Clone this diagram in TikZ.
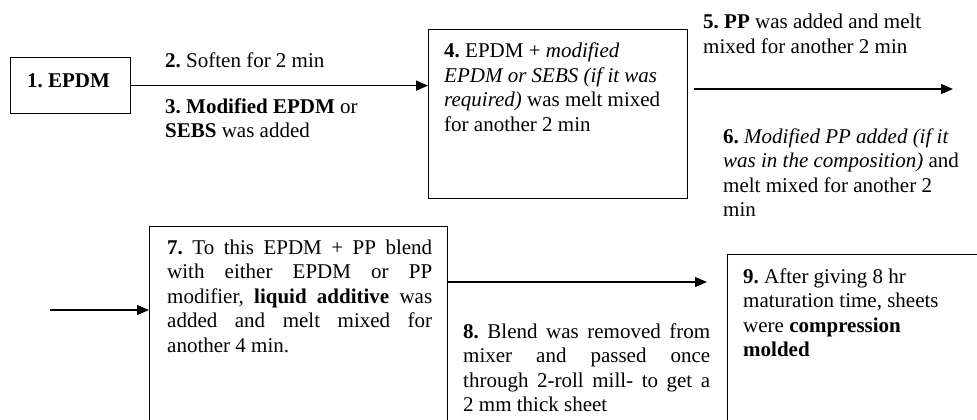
\documentclass[tikz,border=0pt]{standalone}
\usepackage{fontspec}
\setmainfont{Liberation Serif}
\usetikzlibrary{arrows.meta}
\frenchspacing

% one line of text stretched to a fixed width (justified)
\newcommand{\jline}[2]{\makebox[#1][s]{#2}}

\begin{document}
\begin{tikzpicture}[x=1pt,y=-1pt,
  box/.style={draw, line width=1.2pt, inner sep=0pt, anchor=north west},
  txt/.style={inner sep=0pt, anchor=base west, font=\fontsize{21}{24.5}\selectfont},
  flow/.style={line width=1.2pt, -{Triangle[length=12pt,width=10pt]}}]

  \fill[white] (0,0) rectangle (977,420);
  \useasboundingbox (0,0) rectangle (977,420);

  % boxes
  \node[box, minimum width=120pt, minimum height=56pt] (box1) at (10,57) {};
  \node[box, minimum width=259pt, minimum height=169pt] (box4) at (428,29) {};
  \node[box, minimum width=298pt, minimum height=230pt] (box7) at (149,226) {};
  \node[box, minimum width=300pt, minimum height=220pt] (box9) at (727,254) {};

  % box texts
  \node[inner sep=0pt, font=\fontsize{21}{24.5}\selectfont\bfseries] (t1) at (68.5,81) {1. EPDM};

  \node[txt] (t4) at (444,58) {\begin{tabular}[t]{@{}l@{}}
    \textbf{4.} EPDM + \textit{modified}\\
    \textit{EPDM or SEBS (if it was}\\
    \textit{required)} was melt mixed\\
    for another 2 min
  \end{tabular}};

  \node[txt] (t7) at (167,254) {\begin{tabular}[t]{@{}l@{}}
    \jline{265pt}{\textbf{7.} To this EPDM + PP blend}\\
    \jline{265pt}{with either EPDM or PP}\\
    \jline{265pt}{modifier, \textbf{liquid additive} was}\\
    \jline{265pt}{added and melt mixed for}\\
    another 4 min.
  \end{tabular}};

  \node[txt] (t9) at (743,283) {\begin{tabular}[t]{@{}l@{}}
    \textbf{9.} After giving 8 hr\\
    maturation time, sheets\\
    were \textbf{compression}\\
    \textbf{molded}
  \end{tabular}};

  % step labels along the connectors
  \node[txt] (t2) at (165,67) {\textbf{2.} Soften for 2 min};
  \node[txt] (t3) at (165,113) {\begin{tabular}[t]{@{}l@{}}
    \textbf{3. Modified EPDM} or\\
    \textbf{SEBS} was added
  \end{tabular}};

  \node[txt] (t5) at (703,29) {\begin{tabular}[t]{@{}l@{}}
    \textbf{5. PP} was added and melt\\
    mixed for another 2 min
  \end{tabular}};
  \node[txt] (t6) at (723,143) {\begin{tabular}[t]{@{}l@{}}
    \textbf{6.} \textit{Modified PP added (if it}\\
    \textit{was in the composition)} and\\
    melt mixed for another 2\\
    min
  \end{tabular}};

  \node[txt] (t8) at (463,338) {\begin{tabular}[t]{@{}l@{}}
    \jline{247pt}{\textbf{8.} Blend was removed from}\\
    \jline{247pt}{mixer and passed once}\\
    \jline{247pt}{through 2-roll mill- to get a}\\
    2 mm thick sheet
  \end{tabular}};

  % connectors
  \coordinate (out4) at (953,89);
  \coordinate (in7) at (50,310);
  \coordinate (lvl8) at (0,282);

  \draw[flow] (box1.east) -- (box1.east -| box4.west);
  \draw[flow, shorten <=6pt] (box4.east |- out4) -- (out4);
  \draw[flow] (in7) -- (in7 -| box7.west);
  \draw[flow, shorten >=20pt] (box7.east |- lvl8) -- (box9.west |- lvl8);
\end{tikzpicture}
\end{document}
